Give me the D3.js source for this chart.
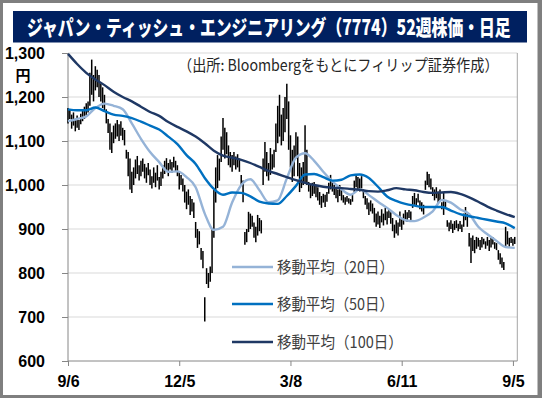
<!DOCTYPE html>
<html>
<head>
<meta charset="utf-8">
<script src="https://cdn.jsdelivr.net/npm/d3@7"></script>
<style>
  html, body { margin: 0; padding: 0; background: #fff; }
  svg { display: block; }
</style>
</head>
<body>
<svg id="chart"></svg>
<script>
// daily high / low (trading-day index 0 = 9/6)
const priceHigh = [
  1175,1172,1160,1165,1150,1158,1148,1162,1170,1178,1186,1190,1255,1285,1250,1270,1262,1250,1230,1222,
  1205,1172,1150,1140,1120,1135,1140,1148,1138,1145,1130,1125,1080,1075,1060,1030,1040,1058,1066,1045,
  1055,1060,1048,1040,1050,1035,1020,1040,1028,1045,1018,1030,1045,1055,1061,1050,1058,1052,1064,1055,
  1045,1030,1023,1015,1000,985,990,975,968,960,916,900,895,857,850,745,811,800,815,900,
  990,1040,1068,1060,1110,1152,1130,1120,1090,1075,1068,1075,1065,1070,1060,1023,1010,893,900,939,
  935,930,915,905,932,925,920,1060,1098,1075,1050,1084,1070,1080,1140,1180,1205,1160,1175,1200,
  1230,1190,1113,1080,1090,1120,1110,1050,1040,1052,1136,1080,1007,1000,1005,1007,998,995,984,975,
  980,978,984,1005,1023,1010,1000,995,990,1000,992,977,972,975,970,968,977,1010,1023,1018,
  1015,1020,990,975,970,960,965,958,948,935,940,930,945,935,948,940,945,938,925,910,
  920,915,940,925,935,943,938,943,940,975,982,970,980,965,961,955,1010,1030,1025,1015,
  995,990,995,985,990,961,982,965,920,915,920,912,918,920,912,918,910,935,950,935,
  891,880,885,875,882,880,875,882,878,872,882,875,880,882,870,868,852,845,835,825,
  905,895,880,882,878,882
];
const priceLow = [
  1140,1150,1128,1135,1122,1130,1125,1138,1145,1150,1158,1165,1180,1205,1190,1215,1222,1200,1190,1175,
  1170,1140,1118,1080,1073,1095,1105,1110,1100,1112,1102,1090,1060,1020,990,982,1000,1015,1025,1010,
  1020,1030,1015,1005,1022,1000,992,1005,995,1010,990,998,1015,1025,1030,1020,1035,1028,1040,1030,
  1020,990,1000,985,960,945,955,932,940,925,880,857,865,830,811,690,775,766,780,800,
  880,960,993,1010,1052,1080,1060,1070,1045,1040,1030,1045,1035,1040,1030,1000,961,864,870,893,
  900,905,880,870,885,895,890,1000,1030,1020,1010,1023,1035,1040,1075,1095,1110,1090,1100,1120,
  1150,1080,1040,1007,1020,1060,1020,984,993,1000,1007,1000,985,970,975,980,972,965,955,948,
  960,950,962,980,990,985,977,970,961,975,965,960,955,962,958,955,962,984,995,990,
  985,992,970,955,945,932,940,935,915,905,910,902,915,908,920,910,925,912,895,880,
  890,885,905,898,910,918,916,925,920,948,955,950,960,945,940,933,989,1000,995,990,
  975,965,970,959,965,945,932,950,905,895,900,891,898,902,895,900,893,905,920,905,
  860,823,850,845,855,860,852,858,865,855,862,850,858,865,855,852,830,820,812,807,
  860,865,860,868,862,866
];

// moving averages read every 5 trading days
const maStep = 5;
const ma20 = [
  1145,1150,1156,1175,1185,1180,1172,1140,1105,1075,1052,1030,1031,1018,995,935,898,905,960,1000,
  1013,988,961,965,1015,1062,1072,1055,1030,1008,990,978,990,977,962,948,932,920,918,926,
  940,966,960,945,934,905,888,873,859,857
];
const ma50 = [
  1172,1170,1170,1176,1168,1160,1157,1152,1144,1135,1126,1110,1093,1068,1048,1016,991,978,983,982,
  974,962,958,957,975,998,1024,1025,1018,1010,1012,1022,1024,1016,996,974,964,957,953,950,
  950,950,942,934,929,925,921,917,913,902
];
const ma100 = [
  1298,1275,1255,1240,1227,1212,1200,1190,1178,1166,1157,1143,1132,1122,1110,1095,1078,1067,1062,1057,
  1050,1041,1032,1025,1018,1011,1005,1000,996,994,993,991,989,986,985,988,993,990,988,984,
  982,983,984,980,972,962,951,942,934,927
];

const tickIdx = [0, 61, 122, 183, 244];
const tickLabels = ['9/6', '12/5', '3/8', '6/11', '9/5'];
const yTicks = [600, 700, 800, 900, 1000, 1100, 1200, 1300];

const seriesNames = ['移動平均（20日）', '移動平均（50日）', '移動平均（100日）'];
const seriesColors = ['#95b3d7', '#0070c0', '#1f3864'];

const W = 542, H = 398;
const plot = {left: 68, right: 517.3, top: 53, bottom: 361};

const svg = d3.select('#chart')
.attr('width', W)
.attr('height', H);

// squeeze a text horizontally so it spans the given width
function fitText(sel, x0, yBase, width) {
  const w = sel.node().getComputedTextLength();
  const sx = Math.min(1, width / w);
  sel.attr('x', 0).attr('y', 0)
  .attr('transform', `translate(${x0},${yBase}) scale(${sx},1)`);
}

// outer frame
svg.append('rect')
.attr('x', 0).attr('y', 0)
.attr('width', W).attr('height', H)
.attr('fill', '#fff');
svg.append('rect')
.attr('x', 1.5).attr('y', 1.5)
.attr('width', W - 4.5).attr('height', H - 3)
.attr('fill', 'none')
.attr('stroke', '#7f7f7f')
.attr('stroke-width', 3);
svg.append('rect')
.attr('x', W - 4).attr('y', 0)
.attr('width', 4).attr('height', H)
.attr('fill', '#7f7f7f');

// title bar
svg.append('rect')
.attr('x', 13).attr('y', 11)
.attr('width', 514).attr('height', 31.5)
.attr('fill', '#002060');
const title = svg.append('text')
.style('font-family', '"Noto Sans CJK JP", sans-serif')
.style('font-weight', '900')
.style('font-size', '21px')
.style('fill', '#fff')
.text('ジャパン・ティッシュ・エンジニアリング（7774）52週株価・日足');
fitText(title, 27, 34.5, 484);

const x = d3.scaleLinear()
.domain([0, 246.4])
.range([plot.left, plot.right]);

const y = d3.scaleLinear()
.domain([600, 1300])
.range([plot.bottom, plot.top]);

// gridlines
svg.append('g')
.selectAll('line')
.data(yTicks.filter(d => d > 600))
.enter()
.append('line')
.attr('x1', plot.left).attr('x2', plot.right)
.attr('y1', d => y(d)).attr('y2', d => y(d))
.attr('stroke', '#d9d9d9')
.attr('stroke-width', 1);

// plot right border
svg.append('line')
.attr('x1', plot.right).attr('x2', plot.right)
.attr('y1', plot.top).attr('y2', plot.bottom)
.attr('stroke', '#a6a6a6');

// axes
const yAxis = svg.append('g')
.attr('transform', `translate(${plot.left},0)`)
.call(d3.axisLeft(y).tickValues(yTicks).tickSize(6).tickPadding(17).tickFormat(d3.format(',')));

const xAxis = svg.append('g')
.attr('transform', `translate(0,${plot.bottom})`)
.call(d3.axisBottom(x).tickValues(tickIdx).tickSize(5).tickPadding(10)
  .tickFormat((d, i) => tickLabels[i]));

[yAxis, xAxis].forEach(g => {
  g.select('.domain').attr('stroke', '#868686');
  g.selectAll('.tick line').attr('stroke', '#868686');
  g.selectAll('.tick text')
  .style('font-family', '"Liberation Sans", Arial, sans-serif')
  .style('font-weight', 'bold')
  .style('font-size', '16px')
  .style('fill', '#000');
});
yAxis.select('.domain').attr('d', `M0,${plot.bottom}V${plot.top}`);
xAxis.select('.domain').attr('d', `M${plot.left},0H${plot.right}`);
yAxis.selectAll('.tick text').attr('x', -23).attr('dy', '0.35em');

svg.append('text')
.attr('x', 23).attr('y', 81)
.attr('text-anchor', 'middle')
.style('font-family', '"Noto Sans CJK JP", sans-serif')
.style('font-weight', 'bold')
.style('font-size', '15px')
.text('円');

// source note
const note = svg.append('text')
.style('font-family', '"Noto Sans CJK JP", sans-serif')
.style('font-size', '15.5px')
.style('fill', '#262626')
.text('（出所: Bloombergをもとにフィリップ証券作成）');
fitText(note, 178, 71, 321);

// daily high-low bars
svg.append('g')
.selectAll('line')
.data(priceHigh.map((h, i) => ({i: i, hi: h, lo: priceLow[i]})))
.enter()
.append('line')
.attr('x1', d => x(d.i)).attr('x2', d => x(d.i))
.attr('y1', d => y(d.lo)).attr('y2', d => y(d.hi))
.attr('stroke', '#000')
.attr('stroke-width', 1.5);

// moving averages
const line = d3.line()
.x((d, k) => x(k * maStep))
.y(d => y(d))
.curve(d3.curveMonotoneX);

[ma20, ma50, ma100].forEach((s, j) => {
  svg.append('path')
  .datum(s)
  .attr('d', line)
  .attr('fill', 'none')
  .attr('stroke', seriesColors[j])
  .attr('stroke-width', 2.4)
  .attr('stroke-linejoin', 'round');
});

// legend
const legendY = [267, 304, 342];
seriesNames.forEach((name, j) => {
  svg.append('line')
  .attr('x1', 232).attr('x2', 273)
  .attr('y1', legendY[j]).attr('y2', legendY[j])
  .attr('stroke', seriesColors[j])
  .attr('stroke-width', 2.6);
  const t = svg.append('text')
  .style('font-family', '"Noto Sans CJK JP", sans-serif')
  .style('font-size', '16px')
  .style('fill', '#404040')
  .text(name);
  fitText(t, 277, legendY[j] + 5.5, j === 2 ? 126 : 117);
});
</script>
</body>
</html>
